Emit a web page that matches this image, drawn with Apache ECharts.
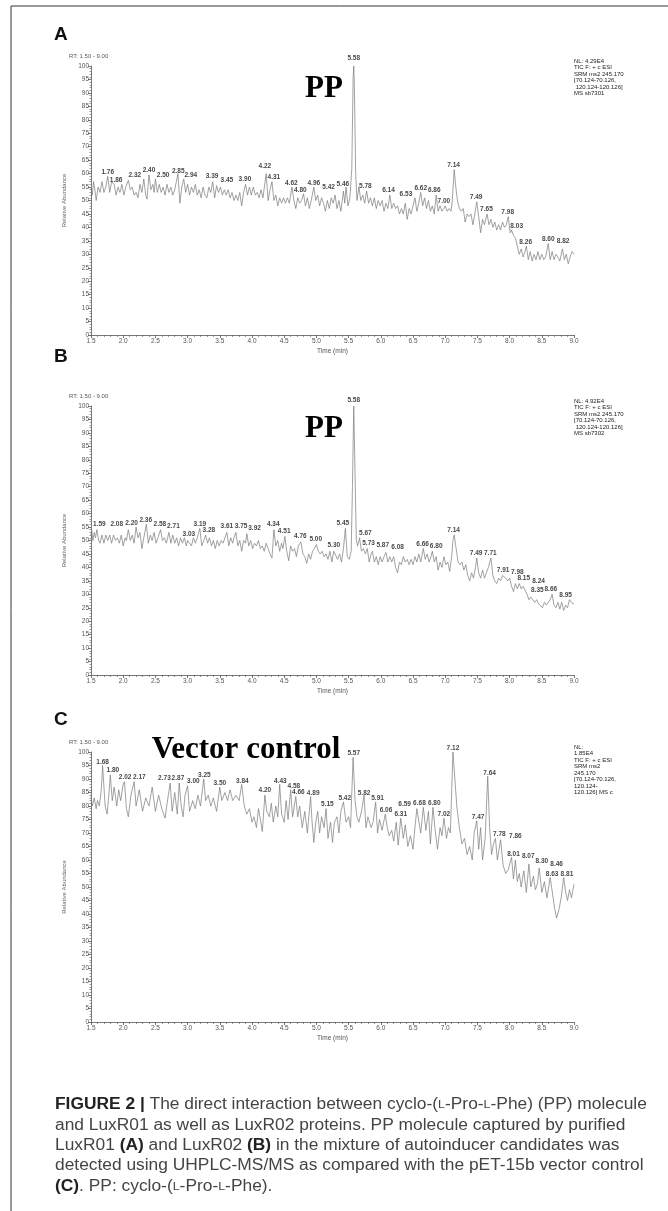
<!DOCTYPE html>
<html><head><meta charset="utf-8">
<script src="https://cdn.jsdelivr.net/npm/echarts@6/dist/echarts.min.js"></script>
<style>html,body{margin:0;padding:0;background:#fff}#c{width:668px;height:1211px}</style>
</head><body><div id="c"></div>
<script>
// ---------- data ----------
const xTicks = {min: 1.5, max: 9.0, step: 0.5};
const yTicks = {min: 0, max: 100, step: 5};

const traceA = [[1.50,55],[1.52,52],[1.54,57],[1.56,54],[1.58,50],[1.61,55],[1.64,53],[1.67,57],[1.70,53],[1.73,55],[1.76,59],[1.79,53],[1.82,57],[1.86,56],[1.89,52],[1.92,55],[1.95,53],[1.98,56],[2.01,52],[2.04,55],[2.08,57.5],[2.11,54],[2.14,55],[2.17,52],[2.20,53],[2.23,51],[2.26,56],[2.29,53],[2.32,58],[2.35,52],[2.37,50.5],[2.40,59.5],[2.43,54],[2.46,56],[2.48,53],[2.50,58],[2.53,53],[2.56,56],[2.59,53],[2.62,55],[2.65,52],[2.68,56],[2.71,53],[2.74,55],[2.77,52],[2.80,54],[2.85,60],[2.88,49],[2.91,55],[2.94,58],[2.97,53],[3.00,56],[3.03,52],[3.06,55],[3.09,53],[3.12,56],[3.15,52],[3.18,54],[3.21,51],[3.24,55],[3.27,52],[3.30,51],[3.33,55],[3.36,53],[3.39,57],[3.42,51],[3.45,55.5],[3.48,53],[3.51,55],[3.54,52],[3.57,54],[3.60,52],[3.63,54],[3.66,51],[3.69,53],[3.72,50],[3.75,52],[3.78,50],[3.81,53],[3.84,48],[3.87,53],[3.90,56],[3.93,52],[3.96,55],[3.99,52],[4.02,55],[4.05,52],[4.08,53],[4.11,51],[4.14,54],[4.17,51],[4.22,60],[4.25,50],[4.28,54],[4.31,57],[4.34,50],[4.37,52],[4.40,48],[4.43,51],[4.46,49],[4.49,51],[4.52,49],[4.55,51],[4.58,49],[4.62,55],[4.65,50],[4.68,47],[4.71,51],[4.74,49],[4.77,50],[4.80,52.5],[4.83,48],[4.86,51],[4.89,47],[4.92,50],[4.96,55],[4.99,50],[5.02,52],[5.05,48],[5.08,51],[5.11,49],[5.14,46],[5.17,50],[5.20,47],[5.23,51],[5.26,49],[5.29,52],[5.32,47],[5.35,50],[5.38,46],[5.42,53.5],[5.44,49],[5.46,55],[5.49,48],[5.52,51],[5.55,62],[5.57,95],[5.58,100],[5.59,92],[5.61,60],[5.63,50],[5.66,55],[5.69,50],[5.72,52],[5.75,49],[5.78,53.5],[5.81,49],[5.84,51],[5.87,48],[5.90,51],[5.93,47],[5.96,50],[5.99,48],[6.02,50],[6.05,46],[6.08,49],[6.11,47],[6.14,52],[6.17,47],[6.20,49],[6.23,47],[6.26,48],[6.29,45],[6.32,47],[6.35,45],[6.38,49],[6.41,43],[6.44,47],[6.47,45],[6.50,48],[6.53,51],[6.56,46],[6.59,49],[6.62,53],[6.65,48],[6.68,51],[6.71,47],[6.74,50],[6.77,46],[6.80,48],[6.83,45],[6.86,52],[6.89,46],[6.92,48],[6.95,46],[6.98,47],[7.00,48],[7.03,46],[7.06,47],[7.09,46],[7.11,50],[7.14,61.5],[7.16,56],[7.19,50],[7.22,47],[7.25,46],[7.28,47],[7.31,42],[7.34,45],[7.37,44],[7.40,45],[7.43,41],[7.46,45],[7.49,49.5],[7.52,44],[7.55,38],[7.58,43],[7.61,41],[7.65,45],[7.68,41],[7.71,43],[7.74,40],[7.77,42],[7.80,39],[7.83,41],[7.86,39],[7.89,42],[7.92,40],[7.95,41],[7.98,44],[8.01,38],[8.03,39],[8.06,37],[8.09,36],[8.12,33],[8.15,30],[8.18,32],[8.21,29],[8.24,31],[8.26,33],[8.29,28],[8.32,31],[8.35,27.5],[8.38,30],[8.41,28],[8.44,31],[8.47,28],[8.50,30],[8.53,28],[8.56,29],[8.60,34],[8.63,28],[8.66,31],[8.69,28],[8.72,30],[8.75,29],[8.78,27.5],[8.82,32],[8.85,28],[8.88,30],[8.91,26.5],[8.94,29],[8.97,31],[9.00,30]];

const traceB = [[1.50,52],[1.51,54],[1.53,50],[1.55,53],[1.57,51],[1.59,54],[1.62,50],[1.64,49],[1.67,52],[1.70,49],[1.73,52],[1.76,50],[1.79,52],[1.82,49],[1.85,52],[1.88,50],[1.91,51],[1.94,49],[1.97,52],[2.00,48],[2.03,51],[2.05,50],[2.08,54],[2.11,50],[2.14,52],[2.17,49],[2.20,55],[2.23,51],[2.26,53],[2.29,47],[2.32,51],[2.36,56],[2.39,49],[2.42,52],[2.45,50],[2.48,53],[2.51,49],[2.54,51],[2.58,54],[2.61,50],[2.64,51],[2.67,49],[2.71,53],[2.74,49],[2.77,52],[2.80,49],[2.83,51],[2.86,48],[2.89,51],[2.92,49],[2.95,51],[2.98,48],[3.00,50],[3.03,50.5],[3.06,48],[3.09,51],[3.12,49],[3.15,51],[3.19,54.5],[3.22,48],[3.25,50],[3.28,52],[3.31,49],[3.34,51],[3.37,48],[3.40,50],[3.43,47],[3.46,50],[3.49,48],[3.52,50],[3.55,49],[3.58,51],[3.61,53],[3.64,48],[3.67,51],[3.70,49],[3.72,51],[3.75,53],[3.78,48],[3.81,50],[3.84,46],[3.87,50],[3.90,49],[3.92,52.5],[3.95,48],[3.98,50],[4.01,47],[4.04,49],[4.07,48],[4.10,50],[4.13,47],[4.16,48],[4.19,46],[4.22,49],[4.25,47],[4.28,45],[4.31,43.5],[4.34,54],[4.37,48],[4.40,50],[4.43,46],[4.46,49],[4.48,47],[4.51,51.5],[4.54,46],[4.57,42.5],[4.60,48],[4.63,46],[4.66,47],[4.69,44],[4.72,48],[4.76,49.5],[4.79,45],[4.82,44],[4.85,41.5],[4.88,45],[4.91,43],[4.94,46],[4.97,47],[5.00,48.5],[5.03,46],[5.06,45],[5.09,46],[5.12,44],[5.15,45],[5.18,43],[5.21,46],[5.24,42],[5.27,46],[5.30,46.5],[5.33,43],[5.36,45],[5.39,42],[5.42,47],[5.45,54.5],[5.48,44],[5.51,43],[5.54,46],[5.56,70],[5.58,100],[5.60,75],[5.62,50],[5.64,48],[5.67,51],[5.70,46],[5.73,47],[5.76,45],[5.79,47],[5.82,42],[5.85,45],[5.87,46],[5.90,42],[5.93,44],[5.96,41],[5.99,44],[6.02,42],[6.05,44],[6.08,45.5],[6.11,42],[6.14,44],[6.17,42],[6.20,44],[6.23,40],[6.26,38],[6.29,42],[6.32,41],[6.35,44],[6.38,42],[6.41,43],[6.44,41],[6.47,43],[6.50,41],[6.53,44],[6.56,42],[6.59,45],[6.62,42],[6.66,47],[6.69,43],[6.72,45],[6.75,42],[6.78,44],[6.80,46],[6.83,42],[6.86,44],[6.89,39],[6.92,42],[6.95,40],[6.98,44],[7.01,41],[7.04,42],[7.07,38.5],[7.10,44],[7.12,50],[7.14,52],[7.17,47],[7.20,42],[7.23,41],[7.26,42],[7.29,39],[7.32,41],[7.35,37],[7.38,35],[7.41,38],[7.44,36],[7.47,40],[7.49,43.5],[7.52,38],[7.55,36],[7.58,39],[7.61,36],[7.64,38],[7.67,40],[7.71,43.5],[7.74,37],[7.77,35],[7.80,34],[7.83,36],[7.86,35],[7.89,37],[7.91,37],[7.94,36],[7.97,35],[8.00,36],[8.03,33],[8.06,31],[8.09,34],[8.12,32],[8.15,34],[8.18,32],[8.21,33],[8.24,33],[8.27,30],[8.30,28],[8.33,29],[8.36,29.5],[8.39,27],[8.42,28],[8.45,26.5],[8.48,27],[8.51,25],[8.54,27],[8.57,26],[8.60,27],[8.63,28],[8.66,30],[8.69,26],[8.72,25],[8.75,27],[8.78,24.5],[8.81,27],[8.84,24],[8.87,26],[8.90,25],[8.93,28],[8.95,28],[8.98,26.5],[9.00,26.5]];

const traceC = [[1.50,84],[1.52,80],[1.55,83],[1.58,79],[1.60,82],[1.63,80],[1.66,86],[1.68,95],[1.72,80],[1.75,77],[1.78,85],[1.80,91.5],[1.83,82],[1.86,87],[1.90,80],[1.93,86],[1.96,82],[2.00,88],[2.02,89],[2.05,79],[2.08,76],[2.12,84],[2.17,89],[2.20,80],[2.25,86],[2.30,78],[2.35,83],[2.40,80],[2.45,87],[2.50,78],[2.55,84],[2.60,79],[2.65,75.5],[2.70,84],[2.73,88.5],[2.76,78],[2.80,85],[2.84,77],[2.87,88.5],[2.90,80],[2.93,76],[2.96,84],[3.00,87.5],[3.03,78],[3.08,82],[3.12,79],[3.16,84],[3.20,80],[3.25,90],[3.28,82],[3.32,84],[3.36,80],[3.40,83],[3.45,78],[3.50,87],[3.53,82],[3.58,85],[3.62,82],[3.66,86],[3.70,82],[3.75,84],[3.80,82],[3.84,88],[3.88,80],[3.92,77],[3.96,79],[4.00,74],[4.03,76],[4.07,72],[4.10,79],[4.13,75],[4.16,70.5],[4.20,84],[4.23,78],[4.27,76],[4.30,81],[4.33,74],[4.37,80],[4.40,76],[4.43,88],[4.46,77],[4.50,74],[4.53,82],[4.56,75],[4.60,86],[4.63,76],[4.68,83.5],[4.71,76],[4.74,80],[4.78,72],[4.82,78],[4.86,70],[4.91,83.5],[4.93,75],[4.96,66.5],[4.99,74],[5.02,78],[5.05,70],[5.08,76],[5.12,72],[5.15,79],[5.18,68],[5.22,74],[5.25,66.5],[5.28,74],[5.32,76],[5.35,70],[5.38,78],[5.42,81.5],[5.46,74],[5.50,76],[5.53,72],[5.57,98],[5.60,82],[5.63,76],[5.66,74],[5.70,78],[5.74,84],[5.77,72],[5.80,76],[5.85,72],[5.88,74],[5.92,81.5],[5.95,70],[5.98,75],[6.02,71],[6.07,77],[6.10,72],[6.13,69],[6.17,71],[6.20,67],[6.24,74],[6.27,65.5],[6.31,75.5],[6.35,68],[6.38,73],[6.42,65],[6.46,69],[6.50,64],[6.53,72],[6.56,79],[6.59,79],[6.62,70],[6.66,79.5],[6.70,71],[6.74,78],[6.77,66],[6.81,79.5],[6.84,72],[6.88,64],[6.92,72],[6.95,69],[6.98,75.5],[7.02,68],[7.05,72],[7.08,70],[7.12,100],[7.15,90],[7.18,80],[7.22,72],[7.26,66],[7.30,68],[7.34,62],[7.38,65],[7.42,60],[7.45,70],[7.49,74.5],[7.52,64],[7.55,72],[7.58,60],[7.62,68],[7.66,91],[7.69,72],[7.72,62],[7.75,66],[7.78,68],[7.81,60],[7.86,67.5],[7.90,58],[7.94,55],[7.98,56.5],[8.03,61],[8.06,53],[8.09,60],[8.12,52],[8.15,55],[8.18,50],[8.22,56],[8.26,48],[8.30,58.5],[8.33,50],[8.37,54],[8.40,49],[8.43,51],[8.46,57],[8.50,48],[8.54,52],[8.58,46],[8.63,53.5],[8.67,47],[8.70,42],[8.73,38.5],[8.77,42],[8.80,46],[8.84,53.5],[8.87,48],[8.90,45],[8.93,49],[8.96,46],[9.00,51]];

// peak labels: [text, time at label centre, abundance at label centre]
const peaksA = [['1.76',1.76,60.5],['1.86',1.89,57.5],['2.32',2.18,59.4],['2.40',2.40,61.1],['2.50',2.62,59.4],['2.85',2.855,60.9],['2.94',3.05,59.4],['3.39',3.38,58.9],['3.45',3.61,57.4],['3.90',3.89,58.0],['4.22',4.20,62.6],['4.31',4.34,58.8],['4.62',4.61,56.4],['4.80',4.75,53.8],['4.96',4.96,56.5],['5.42',5.19,54.8],['5.46',5.41,56.1],['5.58',5.58,103.0],['5.78',5.76,55.3],['6.14',6.12,53.7],['6.53',6.39,52.5],['6.62',6.62,54.4],['6.86',6.83,53.7],['7.00',6.98,49.7],['7.14',7.13,63.2],['7.49',7.48,51.3],['7.65',7.64,46.8],['7.98',7.97,45.7],['8.03',8.11,40.6],['8.26',8.25,34.4],['8.60',8.60,35.7],['8.82',8.83,34.7]];
const peaksB = [['1.59',1.63,55.9],['2.08',1.90,55.9],['2.20',2.13,56.5],['2.36',2.35,57.4],['2.58',2.57,55.9],['2.71',2.78,55.3],['3.03',3.02,52.5],['3.19',3.19,56.1],['3.28',3.33,53.7],['3.61',3.61,55.3],['3.75',3.83,55.3],['3.92',4.04,54.7],['4.34',4.33,55.9],['4.51',4.50,53.4],['4.76',4.75,51.6],['5.00',4.99,50.3],['5.30',5.27,48.4],['5.45',5.41,56.3],['5.58',5.58,102.0],['5.67',5.76,52.8],['5.73',5.81,49.1],['5.87',6.03,48.1],['6.08',6.26,47.6],['6.66',6.65,48.8],['6.80',6.86,47.8],['7.14',7.13,53.9],['7.49',7.48,45.3],['7.71',7.70,45.3],['7.91',7.90,39.1],['7.98',8.12,38.4],['8.15',8.22,35.9],['8.24',8.45,35.0],['8.35',8.43,31.4],['8.66',8.64,32.0],['8.95',8.87,29.7]];
const peaksC = [['1.68',1.68,96.3],['1.80',1.84,93.1],['2.02',2.03,90.7],['2.17',2.25,90.7],['2.73',2.64,90.2],['2.87',2.85,90.2],['3.00',3.09,89.0],['3.25',3.26,91.4],['3.50',3.50,88.5],['3.84',3.85,89.3],['4.20',4.20,85.7],['4.43',4.44,89.3],['4.58',4.65,87.5],['4.66',4.72,85.1],['4.89',4.95,84.8],['5.15',5.17,80.7],['5.42',5.44,83.0],['5.57',5.58,99.6],['5.82',5.74,84.6],['5.91',5.95,83.0],['6.06',6.08,78.5],['6.31',6.31,77.0],['6.59',6.37,80.7],['6.68',6.60,81.2],['6.80',6.83,81.2],['7.02',6.98,76.8],['7.12',7.12,101.3],['7.47',7.51,75.8],['7.64',7.69,92.2],['7.78',7.84,69.4],['7.86',8.09,68.8],['8.01',8.06,62.2],['8.07',8.29,61.4],['8.30',8.50,59.6],['8.46',8.73,58.4],['8.63',8.66,54.8],['8.81',8.89,54.8]];

const infoA = ['NL: 4.29E4','TIC F: + c ESI','SRM ms2 245.170','[70.124-70.126,',' 120.124-120.126]','MS sb7301'];
const infoB = ['NL: 4.92E4','TIC F: + c ESI','SRM ms2 245.170','[70.124-70.126,',' 120.124-120.126]','MS sb7302'];
const infoC = ['NL:','1.85E4','TIC F: + c ESI','SRM ms2','245.170','[70.124-70.126,','120.124-','120.126] MS c'];
const panelLetters = ['A','B','C'];
const rangeText = 'RT: 1.50 - 9.00';
const xName = 'Time (min)';
const yName = 'Relative Abundance';

// ---------- layout ----------
const NARROW = "'Liberation Sans Narrow','Liberation Sans',Arial,sans-serif";
const SANS = "'Liberation Sans',Arial,Helvetica,sans-serif";
const SERIF = "'Liberation Serif','Times New Roman',serif";
const panels = [
  {top: 66, height: 269, trace: traceA, peaks: peaksA, info: infoA, letterY: 35, title: 'PP', titleX: 324, titleY: 89},
  {top: 406, height: 269, trace: traceB, peaks: peaksB, info: infoB, letterY: 357, title: 'PP', titleX: 324, titleY: 429},
  {top: 752, height: 270, trace: traceC, peaks: peaksC, info: infoC, letterY: 720, title: 'Vector control', titleX: 246, titleY: 750}
];
const gridLeft = 91, gridRight = 94;
const axisCol = '#555';

const grids = [], xAxes = [], yAxes = [], series = [], graphics = [];
panels.forEach((p, i) => {
  grids.push({left: gridLeft, right: gridRight, top: p.top, height: p.height, containLabel: false});
  xAxes.push({
    type: 'value', gridIndex: i, min: xTicks.min, max: xTicks.max, interval: xTicks.step,
    axisLine: {show: true, onZero: false, lineStyle: {color: axisCol, width: 0.8}},
    axisTick: {show: true, length: 3, lineStyle: {color: axisCol, width: 0.8}},
    minorTick: {show: true, splitNumber: 5, length: 2, lineStyle: {color: axisCol, width: 0.6}},
    splitLine: {show: false},
    axisLabel: {fontSize: 6.5, color: '#555', margin: 3, fontFamily: NARROW, formatter: v => v.toFixed(1)},
    name: xName, nameLocation: 'middle', nameGap: 13,
    nameTextStyle: {fontSize: 6.5, color: '#555', fontFamily: NARROW}
  });
  yAxes.push({
    type: 'value', gridIndex: i, min: yTicks.min, max: yTicks.max, interval: yTicks.step,
    axisLine: {show: true, lineStyle: {color: axisCol, width: 0.8}},
    axisTick: {show: true, length: 3, lineStyle: {color: axisCol, width: 0.8}},
    minorTick: {show: true, splitNumber: 5, length: 1.5, lineStyle: {color: axisCol, width: 0.6}},
    splitLine: {show: false},
    axisLabel: {fontSize: 6.5, color: '#555', margin: 2, fontFamily: NARROW},
    name: yName, nameLocation: 'middle', nameGap: 15,
    nameTextStyle: {fontSize: 6, color: '#666', fontFamily: SANS}
  });
  series.push({
    type: 'line', xAxisIndex: i, yAxisIndex: i, data: p.trace, showSymbol: false, symbol: 'none',
    lineStyle: {color: '#7a7a7a', width: 0.7}, animation: false, silent: true, clip: false
  });
  series.push({
    type: 'scatter', xAxisIndex: i, yAxisIndex: i, symbolSize: 1, clip: false, silent: true, animation: false,
    itemStyle: {color: 'rgba(0,0,0,0)'},
    data: p.peaks.map(d => ({name: d[0], value: [d[1], d[2]]})),
    label: {show: true, position: 'inside', formatter: '{b}', fontSize: 6.5, fontWeight: 'bold',
            color: '#111', fontFamily: NARROW},
    labelLayout: {hideOverlap: false}
  });
  graphics.push({type: 'text', left: 54, top: p.letterY - 10,
    style: {text: panelLetters[i], font: 'bold 19px ' + SANS, fill: '#111'}});
  graphics.push({type: 'text', x: 69, y: p.top - 10,
    style: {text: rangeText, fontSize: 6, fontFamily: NARROW, fill: '#555', verticalAlign: 'middle', textVerticalAlign: 'middle'}});
  graphics.push({type: 'text', x: p.titleX, y: p.titleY,
    style: {text: p.title, font: 'bold 31px ' + SERIF, fill: '#000', align: 'center', textAlign: 'center', verticalAlign: 'middle', textVerticalAlign: 'middle'}});
  graphics.push({type: 'text', x: 574, y: p.top - 8,
    style: {text: p.info.join('\n'), fontSize: 6, lineHeight: 6.5, fontFamily: NARROW, fill: '#222'}});
});

// frame lines
graphics.push({type: 'line', shape: {x1: 11, y1: 6, x2: 668, y2: 6}, style: {stroke: '#333', lineWidth: 1}});
graphics.push({type: 'line', shape: {x1: 11, y1: 6, x2: 11, y2: 1211}, style: {stroke: '#333', lineWidth: 1}});

// caption
const captionLines = [
  '{b|FIGURE 2 |} The direct interaction between cyclo-({s|L}-Pro-{s|L}-Phe) (PP) molecule',
  'and LuxR01 as well as LuxR02 proteins. PP molecule captured by purified',
  'LuxR01 {b|(A)} and LuxR02 {b|(B)} in the mixture of autoinducer candidates was',
  'detected using UHPLC-MS/MS as compared with the pET-15b vector control',
  '{b|(C)}. PP: cyclo-({s|L}-Pro-{s|L}-Phe).'
];
const capY = [1105, 1126, 1146, 1166, 1187];
captionLines.forEach((t, k) => {
  graphics.push({type: 'text', x: 55, y: capY[k], scaleX: 1.085, scaleY: 1,
    style: {text: t, x: 0, y: 0, fontSize: 16, fontFamily: SANS, fill: '#444', verticalAlign: 'middle', textVerticalAlign: 'middle',
      rich: {b: {fontWeight: 'bold', fontSize: 16, fontFamily: SANS, fill: '#222'},
             s: {fontSize: 11.5, fontFamily: SANS, fill: '#444'}}}});
});

const chart = echarts.init(document.getElementById('c'), null, {renderer: 'canvas'});
chart.setOption({
  animation: false, backgroundColor: '#fff',
  grid: grids, xAxis: xAxes, yAxis: yAxes, series: series, graphic: graphics
});
</script></body></html>
